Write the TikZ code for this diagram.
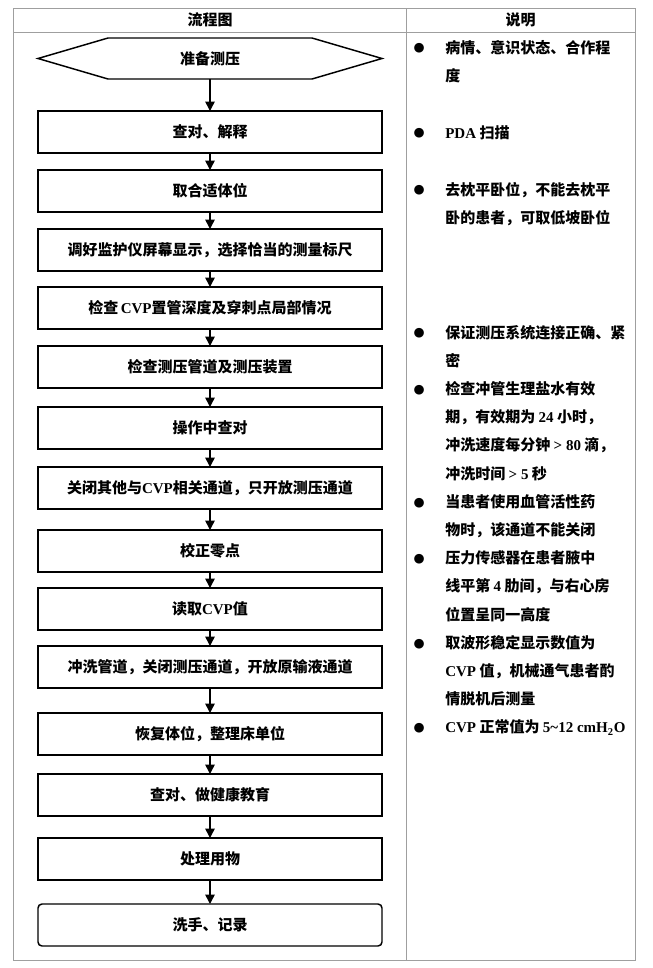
\documentclass[tikz,border=0pt]{standalone}
\usepackage{fontspec}
\setmainfont{Noto Sans CJK SC}
\newfontfamily\enfont{Liberation Serif}
\newfontfamily\dotfont{DejaVu Sans}
\newcommand\en[1]{{\enfont\bfseries #1}}
\newcommand\bul{\llap{\raisebox{0.8pt}{\dotfont\fontsize{9.5pt}{9.5pt}\selectfont ●}\hspace{15.5pt}}}
\usepackage{tikz}
\usetikzlibrary{arrows.meta,positioning}

\begin{document}
\begin{tikzpicture}[
  x=0.75pt, y=-0.75pt,
  font=\fontsize{11.25pt}{21.15pt}\selectfont\bfseries,
  box/.style={draw, line width=1.1pt, minimum width=258pt, minimum height=31.5pt,
              outer sep=0pt, inner sep=2pt},
  endbox/.style={box, rounded corners=3pt},
  note/.style={anchor=north west, inner sep=0pt, align=left},
  tbl/.style={draw=gray!75, line width=0.7pt},
  >={Triangle[length=7pt, width=7pt]}]
\useasboundingbox (0,0) rectangle (653,968);
% table frame
\draw[tbl] (13,8) rectangle (635,960);
\draw[tbl] (13,32) -- (635,32);
\draw[tbl] (406,8) -- (406,960);
\node (hflow) at (210,20) {流程图};
\node (hnote) at (520.5,20) {说明};
% flow chart
\node[minimum width=258pt, minimum height=30.75pt, outer sep=0pt] (prep) at (210,58.5) {准备测压};
\draw[line width=1.1pt] (prep.west) -- ([xshift=52.5pt]prep.north west)
  -- ([xshift=-52.5pt]prep.north east) -- (prep.east)
  -- ([xshift=-52.5pt]prep.south east) -- ([xshift=52.5pt]prep.south west) -- cycle;
\node[box, below=24pt of prep] (check) {查对、解释};
\node[box, below=12.75pt of check] (pose) {取合适体位};
\node[box, below=12.75pt of pose] (screen) {调好监护仪屏幕显示，选择恰当的测量标尺};
\node[box, below=12pt of screen] (depth) {检查\,\en{CVP}置管深度及穿刺点局部情况};
\node[box, below=12.75pt of depth] (tube) {检查测压管道及测压装置};
\node[box, below=14.25pt of tube] (recheck) {操作中查对};
\node[box, below=13.5pt of recheck] (close) {关闭其他与\en{CVP}相关通道，只开放测压通道};
\node[box, below=15.75pt of close] (zero) {校正零点};
\node[box, below=12pt of zero] (read) {读取\en{CVP}值};
\node[box, below=12pt of read] (flush) {冲洗管道，关闭测压通道，开放原输液通道};
\node[box, below=18.75pt of flush] (restore) {恢复体位，整理床单位};
\node[box, below=14.25pt of restore] (teach) {查对、做健康教育};
\node[box, below=16.5pt of teach] (dispose) {处理用物};
\node[endbox, below=18pt of dispose] (record) {洗手、记录};
\draw[->, line width=1.1pt] (prep) -- (check); \draw[->, line width=1.1pt] (check) -- (pose);
\draw[->, line width=1.1pt] (pose) -- (screen); \draw[->, line width=1.1pt] (screen) -- (depth);
\draw[->, line width=1.1pt] (depth) -- (tube); \draw[->, line width=1.1pt] (tube) -- (recheck);
\draw[->, line width=1.1pt] (recheck) -- (close); \draw[->, line width=1.1pt] (close) -- (zero);
\draw[->, line width=1.1pt] (zero) -- (read); \draw[->, line width=1.1pt] (read) -- (flush);
\draw[->, line width=1.1pt] (flush) -- (restore); \draw[->, line width=1.1pt] (restore) -- (teach);
\draw[->, line width=1.1pt] (teach) -- (dispose); \draw[->, line width=1.1pt] (dispose) -- (record);
% notes
\node[note] (state) at (445,33) {\strut\bul 病情、意识状态、合作程\\度};
\node[note] (pda) at (445,118) {\strut\bul\en{PDA} 扫描};
\node[note] (flat) at (445,175) {\strut\bul 去枕平卧位，不能去枕平\\卧的患者，可取低坡卧位};
\node[note] (link) at (445,318) {\strut\bul 保证测压系统连接正确、紧\\密};
\node[note] (saline) at (445,374.4) {\strut\bul 检查冲管生理盐水有效\\期，有效期为 \en{24} 小时，\\冲洗速度每分钟 \en{> 80} 滴，\\冲洗时间 \en{> 5} 秒};
\node[note] (drug) at (445,487.2) {\strut\bul 当患者使用血管活性药\\物时，该通道不能关闭};
\node[note] (sensor) at (445,543.6) {\strut\bul 压力传感器在患者腋中\\线平第 \en{4} 肋间，与右心房\\位置呈同一高度};
\node[note] (wave) at (445,628.2) {\strut\bul 取波形稳定显示数值为\\\en{CVP} 值，机械通气患者酌\\情脱机后测量};
\node[note] (normal) at (445,712.8) {\strut\bul\en{CVP} 正常值为 \en{5\textasciitilde 12 cmH\textsubscript{2}O}};
\end{tikzpicture}
\end{document}
